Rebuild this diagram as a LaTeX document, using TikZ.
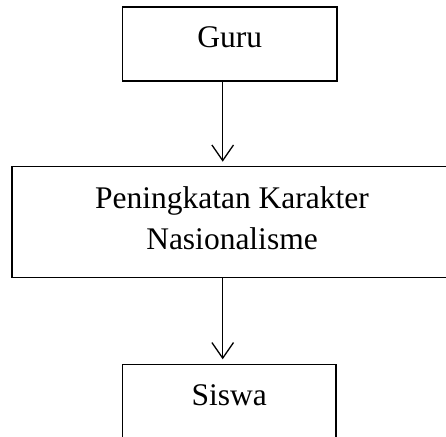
\documentclass[tikz,border=0pt]{standalone}
\usepackage{fontspec}
\setmainfont{Liberation Serif}
\usetikzlibrary{arrows.meta}

\begin{document}
\begin{tikzpicture}[x=0.5pt, y=-0.5pt,
    box/.style={rectangle, draw, line width=0.75pt, inner sep=0pt, outer sep=0pt,
      font=\fontsize{15.75pt}{20.85pt}\selectfont, text height=11pt, text depth=7pt},
    arr/.style={-{Straight Barb[length=7.8pt, width=10.8pt]}, line width=0.65pt}]

      \clip (0,0) rectangle (446,437);
      \useasboundingbox (0,0) rectangle (446,437);

      \node [box, minimum width=107.15pt, minimum height=37pt] (guru) at (229.85,44) {Guru};
      \node [box, minimum width=220pt, minimum height=55.4pt, align=center,
             text height=27.9pt, text depth=0pt]
            (karakter) at (232,222.1) {Peningkatan Karakter\\Nasionalisme};
      \node [box, minimum width=106.85pt, minimum height=37pt] (siswa) at (229.2,401.3) {Siswa};

      \coordinate (axis) at (222.7,0);
      \draw [arr] (guru.south -| axis) to ([yshift=2.5pt]karakter.north -| axis);
      \draw [arr] (karakter.south -| axis) to ([yshift=2.5pt]siswa.north -| axis);
\end{tikzpicture}
\end{document}
